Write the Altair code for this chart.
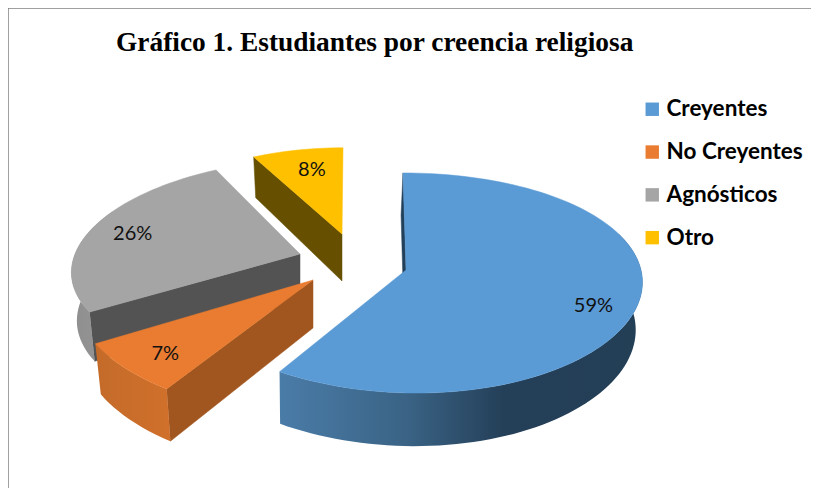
import math
import altair as alt
import pandas as pd

TITLE = "Gráfico 1. Estudiantes por creencia religiosa"
categories = ["Creyentes", "No Creyentes", "Agnósticos", "Otro"]
shares = [59, 7, 26, 8]
top_colors = ["#5B9BD5", "#E97C30", "#A5A5A5", "#FFC000"]
radial_colors = ["#23405A", "#A2561F", "#535353", "#665000"]
wall_stops = [
    [(0, "#4A7CA8"), (0.35, "#3A6385"), (0.62, "#243F58"), (1, "#233F56")],
    [(0, "#C46B2A"), (1, "#D0702B")],
    [(0, "#8F8F8F"), (1, "#969696")],
    None,
]
wall_span = [(70, 212.4), (212.4, 237.6), (237.6, 295), None]

# explosion centre and tilt of each slice, as drawn by the 3D pie
centre_x = [406, 313, 300, 342]
centre_y = [270, 280, 254, 234]
radius_x = [235, 235, 225, 216]
radius_y = [108.5, 105, 103.3, 102.6]
persp_x = [0.08, 0.165, 0.1, 0.19]
persp_y = [0.118, 0.22, 0.088, 0.19]
shear = [6.9, 0, -18, -1]
shear2 = [3.9, 0, 0, 0]
depth = [47, 48, 48, 47]
base_x = [0.98, 0.975, 0.976, 0.977]
base_y = [1.05, 1.04, 1.02, 1.08]
base_shift = [-2, 0, 0, 0]
label_frac = [0.53, 0.42, 0.5, 0.55]
label_rad = [0.83, 0.83, 0.8, 0.72]
draw_order = [3, 2, 1, 0]


def project(i, deg, r=1.0, bottom=False):
    u = math.sin(math.radians(deg)) * r
    v = -math.cos(math.radians(deg)) * r
    dx = radius_x[i] * u / (1 - persp_x[i] * v) + shear[i] * v + shear2[i] * v * v
    dy = radius_y[i] * v / (1 - persp_y[i] * v)
    if bottom:
        return (centre_x[i] + base_shift[i] + dx * base_x[i],
                centre_y[i] + dy * base_y[i] + depth[i])
    return centre_x[i] + dx, centre_y[i] + dy


starts = []
acc = 0.0
for s in shares:
    starts.append(acc)
    acc += s * 3.6

X = alt.Scale(domain=[8, 811])
Y = alt.Scale(domain=[488, 8])
x_enc = alt.X("x:Q", scale=X, axis=None)
y_enc = alt.Y("y:Q", scale=Y, axis=None)


def poly(points, fill, stroke=None):
    closed = list(points) + [points[0]]
    df = pd.DataFrame({"seq": range(len(closed)),
                       "x": [p[0] for p in closed],
                       "y": [p[1] for p in closed]})
    if stroke:
        mark = alt.Chart(df).mark_line(fill=fill, stroke=stroke, strokeWidth=0.5)
    else:
        mark = alt.Chart(df).mark_line(fill=fill, strokeWidth=0)
    return mark.encode(x=x_enc, y=y_enc, order="seq:Q")


layers = []
for i in draw_order:
    a0 = starts[i]
    a1 = a0 + shares[i] * 3.6
    layers.append(poly([project(i, a0), project(i, a0, 0), project(i, a0, 0, True),
                        project(i, a0, 1, True)], radial_colors[i], radial_colors[i]))
    if wall_span[i]:
        b0, b1 = wall_span[i]
        n = max(10, int((b1 - b0) / 2))
        ang = [b0 + (b1 - b0) * k / n for k in range(n + 1)]
        pts = [project(i, a) for a in ang] + [project(i, a, 1, True) for a in reversed(ang)]
        grad = alt.LinearGradient(
            gradient="linear", x1=0, x2=1, y1=0, y2=0,
            stops=[alt.GradientStop(offset=o, color=c) for o, c in wall_stops[i]],
        )
        layers.append(poly(pts, grad))
    n_top = max(12, int((a1 - a0) / 2))
    pts = [project(i, a0 + (a1 - a0) * k / n_top) for k in range(n_top + 1)]
    layers.append(poly(pts + [project(i, a0, 0)], top_colors[i], top_colors[i]))

labels = []
for i in range(4):
    deg = starts[i] + shares[i] * 3.6 * label_frac[i]
    x, y = project(i, deg, label_rad[i])
    labels.append({"x": x, "y": y, "label": f"{shares[i]}%"})
labels = pd.DataFrame(labels)

text = alt.Chart(labels).mark_text(font="Lato", fontSize=20, color="#111111").encode(
    x=x_enc, y=y_enc, text="label:N"
)

legend_df = pd.DataFrame({"cat": categories, "x": [-50] * 4, "y": [-50] * 4})
legend = alt.Chart(legend_df).mark_square(size=0, clip=True, opacity=1).encode(
    x=x_enc, y=y_enc,
    fill=alt.Fill("cat:N", scale=alt.Scale(domain=categories, range=top_colors),
                  legend=alt.Legend(title=None, orient="none", legendX=633, legendY=90,
                                    symbolType="square", symbolSize=180, symbolStrokeWidth=0,
                                    symbolOpacity=1,
                                    labelFont="Lato", labelFontSize=22.5, labelFontWeight="bold",
                                    labelColor="#000000", rowPadding=19.8, labelOffset=3)),
)

frame_top = alt.Chart(pd.DataFrame({"x": [8], "x2": [811], "y": [8]})).mark_rule(color="#808080", strokeWidth=1.5).encode(
    x=x_enc, x2="x2:Q", y=y_enc)
frame_left = alt.Chart(pd.DataFrame({"x": [8], "y": [8], "y2": [488]})).mark_rule(color="#808080", strokeWidth=1.5).encode(
    x=x_enc, y=y_enc, y2="y2:Q")

chart = alt.layer(frame_top, frame_left, *layers, text, legend).properties(
    width=803, height=480, padding=0,
    autosize=alt.AutoSizeParams(type="none"),
    title=alt.TitleParams(TITLE, anchor="start", dx=108, dy=53, font="Liberation Serif",
                          fontSize=27.4, fontWeight="bold", color="#000000", frame="group"),
).configure_view(stroke=None)

chart.save("out.html", embed_options={"renderer": "svg", "actions": False})
